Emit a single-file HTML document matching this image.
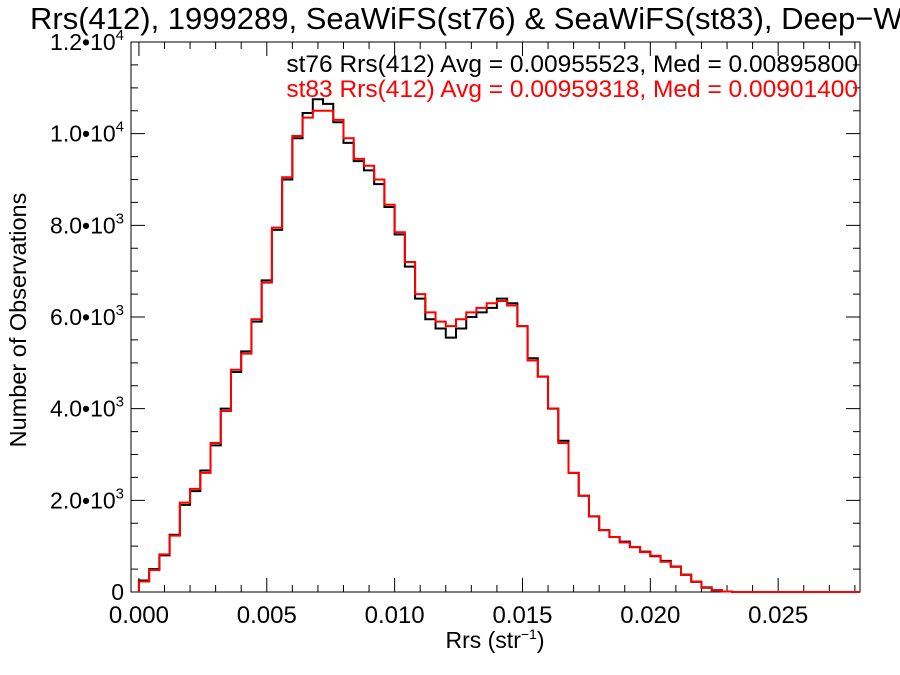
<!DOCTYPE html>
<html><head><meta charset="utf-8"><style>
html,body{margin:0;padding:0;background:#fff;overflow:hidden;}
svg{display:block;font-family:"Liberation Sans",Arial,sans-serif;}
</style></head><body>
<svg id="chart" width="900" height="675" viewBox="0 0 900 675" xmlns="http://www.w3.org/2000/svg">
<text x="30" y="29" font-size="31" fill="#000">Rrs(412), 1999289, SeaWiFS(st76) &amp; SeaWiFS(st83), Deep−Water</text>
<g id="axes"></g>
<g id="series"></g>
<text x="858" y="72" font-size="24.5" text-anchor="end" fill="#000">st76 Rrs(412) Avg = 0.00955523, Med = 0.00895800</text>
<text x="858" y="97" font-size="24.5" text-anchor="end" fill="#ff0000">st83 Rrs(412) Avg = 0.00959318, Med = 0.00901400</text>
<text x="495" y="648" font-size="23" text-anchor="middle">Rrs (str<tspan font-size="14" dy="-9">−1</tspan><tspan dy="9">)</tspan></text>
<text transform="translate(26,320) rotate(-90)" font-size="23.5" text-anchor="middle">Number of Observations</text>
</svg>
<script>
const binWidth = 0.0004;
const st76Counts = [250,500,800,1250,1900,2200,2650,3200,4000,4800,5250,5900,6800,7900,9000,9900,10450,10750,10650,10250,9800,9400,9200,8900,8400,7800,7100,6400,5950,5750,5550,5750,6000,6100,6200,6400,6300,5800,5100,4700,4000,3300,2600,2100,1650,1350,1200,1100,980,880,780,680,550,380,220,100,40,10];
const st83Counts = [230,480,820,1230,1950,2250,2600,3250,3950,4850,5200,5950,6750,7950,9050,9950,10350,10500,10500,10300,9900,9450,9300,9000,8450,7850,7200,6500,6100,5900,5800,5950,6100,6200,6300,6350,6250,5800,5050,4700,4000,3250,2600,2100,1650,1350,1200,1080,980,870,790,660,560,370,230,90,35,10];
const xTicks = [0,0.005,0.010,0.015,0.020,0.025];
const xTickLabels = ["0.000","0.005","0.010","0.015","0.020","0.025"];
const yTicks = [0,2000,4000,6000,8000,10000,12000];
const yTickLabels = ["0","2.0•10|3","4.0•10|3","6.0•10|3","8.0•10|3","1.0•10|4","1.2•10|4"];

const L=131,R=860,T=42,B=592, xmin=-0.00031, xmax=0.0282, ymax=12000;
const X=v=>L+(v-xmin)/(xmax-xmin)*(R-L);
const Y=v=>B-v/ymax*(B-T);
const NS="http://www.w3.org/2000/svg";
const axes=document.getElementById('axes'), series=document.getElementById('series');
function mk(tag,attrs,parent){const e=document.createElementNS(NS,tag);for(const k in attrs)e.setAttribute(k,attrs[k]);parent.appendChild(e);return e;}

const frame=mk('rect',{x:L,y:T,width:R-L,height:B-T,fill:'none',stroke:'#000','stroke-width':1},axes);


let d='';
for(let v=0;v<=xmax+1e-9;v+=0.001){const x=X(v);const maj=Math.abs(v/0.005-Math.round(v/0.005))<1e-6;const l=maj?14:7;d+=`M${x},${B}v${-l}M${x},${T}v${l}`;}
for(let v=0;v<=ymax;v+=500){const y=Y(v);const maj=v%2000===0;const l=maj?14:7;d+=`M${L},${y}h${l}M${R},${y}h${-l}`;}
const tk=mk('path',{d:d,stroke:'#000','stroke-width':1,fill:'none'},axes);


xTicks.forEach((v,i)=>{const t=mk('text',{x:X(v),y:B+31,'font-size':24,'text-anchor':'middle'},axes);t.textContent=xTickLabels[i];

});
yTicks.forEach((v,i)=>{const t=mk('text',{x:L-7,y:Y(v)+8,'font-size':23,'text-anchor':'end'},axes);const p=yTickLabels[i].split('|');


if(p.length===1){t.textContent=p[0];}else{const a=mk('tspan',{},t);a.textContent=p[0];const b=mk('tspan',{dy:-10,'font-size':15},t);b.textContent=p[1];}});

function stepPath(counts){let p=`M${X(0)},${Y(0)}`;counts.forEach((c,i)=>{p+=`V${Y(c)}H${X((i+1)*binWidth)}`;});p+=`V${Y(0)}H${R}`;return p;}
const s1=mk('path',{d:stepPath(st76Counts),fill:'none',stroke:'#000','stroke-width':2},series);


const s2=mk('path',{d:stepPath(st83Counts),fill:'none',stroke:'#ff0000','stroke-width':2},series);


</script>
</body></html>
